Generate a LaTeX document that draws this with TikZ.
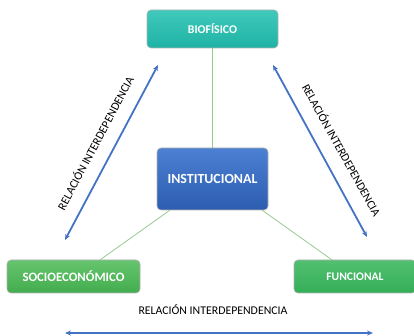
\documentclass[tikz,border=0pt]{standalone}
\usepackage{fontspec}
\setmainfont{Carlito}
\usetikzlibrary{arrows.meta}
\definecolor{tealtop}{HTML}{3FC9BB}
\definecolor{tealbot}{HTML}{1FB3A5}
\definecolor{bluetop}{HTML}{4C80D2}
\definecolor{bluebot}{HTML}{2C5DB0}
\definecolor{greentop}{HTML}{66C46E}
\definecolor{greenbot}{HTML}{43AD4E}
\definecolor{funtop}{HTML}{52C070}
\definecolor{funbot}{HTML}{33AE57}
\definecolor{linkgreen}{HTML}{93CC8E}
\definecolor{relblue}{HTML}{4472C4}
\tikzset{
  box/.style={rounded corners=4pt, draw=white!70!black, line width=0.6pt, text=white,
    font=\bfseries, inner sep=0pt, align=center},
  link/.style={linkgreen, line width=0.8pt},
  rel/.style={{Stealth[length=6pt,width=5pt]}-{Stealth[length=6pt,width=5pt]}, relblue, line width=1.8pt},
  rellabel/.style={font=\fontsize{11.8}{13}\selectfont, inner sep=0pt}
}
\begin{document}
\begin{tikzpicture}[x=1pt,y=1pt]
    \useasboundingbox (0,0) rectangle (414,336);
    % boxes
    \node[box, top color=tealtop, bottom color=tealbot, minimum width=131pt, minimum height=38pt,
      font=\bfseries\fontsize{11.8}{13}\selectfont] (bio) at (212.5,307) {BIOFÍSICO};
    \node[box, top color=bluetop, bottom color=bluebot, minimum width=111pt, minimum height=62pt,
      font=\bfseries\fontsize{13.9}{15}\selectfont] (inst) at (212.5,157) {INSTITUCIONAL};
    \node[box, top color=greentop, bottom color=greenbot, minimum width=133pt, minimum height=33pt,
      font=\bfseries\fontsize{12.8}{14}\selectfont] (socio) at (73.5,59.5) {SOCIOECONÓMICO};
    \node[box, top color=funtop, bottom color=funbot, minimum width=122pt, minimum height=33pt,
      font=\bfseries\fontsize{11.6}{13}\selectfont] (func) at (355,59.5) {FUNCIONAL};
    % links
    \draw [link] (bio.south) -- (inst.north);
    \draw [link] ([xshift=13pt]inst.south west) -- ([xshift=-40pt]socio.north east);
    \draw [link] ([xshift=-6pt]inst.south east) -- ([xshift=38pt]func.north west);
    % interdependence arrows
    \coordinate (lt) at (158,271);
    \coordinate (lb) at (65,96);
    \coordinate (rt) at (273,271);
    \coordinate (rb) at (367,99);
    \coordinate (bl) at (65,3);
    \coordinate (br) at (373,3);
    \draw [rel] (lb) -- (lt);
    \draw [rel] (rt) -- (rb);
    \draw [rel] (bl) -- (br);
    \node[rellabel, rotate=62] (ll) at (95,193) {RELACIÓN INTERDEPENDENCIA};
    \node[rellabel, rotate=-61] (rl) at (342,186) {RELACIÓN INTERDEPENDENCIA};
    \node[rellabel] (bt) at (213,26) {RELACIÓN INTERDEPENDENCIA};
\end{tikzpicture}
\end{document}
